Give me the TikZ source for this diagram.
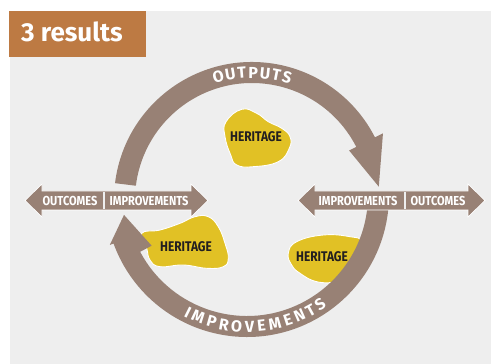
\documentclass[tikz,border=0pt]{standalone}
\usepackage{fontspec}
\setmainfont{Fira Sans}
\newfontfamily\condfont[FakeStretch=0.85]{Fira Sans}
\usetikzlibrary{calc}
\definecolor{panelgray}{HTML}{EEEEEE}
\definecolor{titleorange}{HTML}{BD7A43}
\definecolor{bandbrown}{HTML}{988175}
\definecolor{blobyellow}{HTML}{E1C125}
\definecolor{darktext}{HTML}{231F20}
\tikzset{
  blob/.style={fill=blobyellow, draw=white, line width=0.9pt},
  band/.style={fill=bandbrown},
  hbar/.style={fill=bandbrown, draw=white, line width=0.7pt},
  divider/.style={draw=panelgray, line width=2pt},
  barlabel/.style={inner sep=0pt, text=white, font=\condfont\fontsize{13}{13}\selectfont\bfseries},
  heritagelabel/.style={inner sep=0pt, text=darktext, font=\condfont\fontsize{14}{14}\selectfont\bfseries},
  arcletter/.style={inner sep=0pt, text=white, font=\fontsize{16}{16}\selectfont\bfseries}
}
\begin{document}
\begin{tikzpicture}[x=1pt,y=1pt]
\useasboundingbox (0,0) rectangle (491,364);
\fill[white] (0,0) rectangle (491,364);
\fill[panelgray] (10,0) rectangle (491,353);
% title
\fill[titleorange] (9,307) rectangle (146,353);
\node[anchor=base west, inner sep=0pt, text=white, font=\fontsize{26}{26}\selectfont\bfseries] (title) at (21,322) {3 results};

% blobs
\draw[blob] plot[smooth cycle, tension=0.75] coordinates {(226,242.3) (241.7,254.7) (256.7,250.7) (268.3,242.3) (281.7,235.7) (290,227.3) (289.3,215.7) (278.3,202.3) (253.3,197.3) (236.7,199) (230.7,209) (225,227.3)};
\draw[blob] plot[smooth cycle, tension=0.75] coordinates {(141.7,130.7) (160,134) (180,140.7) (195,147.3) (208.3,147.3) (218.3,137.3) (225,120.7) (228.3,105.7) (223.3,97.3) (206.7,95.7) (183.3,99) (160,97.3) (150,104) (146.7,115.7)};
\draw[blob] plot[smooth cycle, tension=0.75] coordinates {(288.3,110.7) (296.7,122.3) (323.3,129) (350,127.3) (361.7,122.3) (360,104) (351.7,89) (336.7,82.3) (316.7,82.3) (300,90.7) (291.7,99)};

\node[heritagelabel] (her1) at (256,227) {HERITAGE};
\node[heritagelabel] (her2) at (186,117) {HERITAGE};
\node[heritagelabel] (her3) at (322,107) {HERITAGE};

% ring
\coordinate (c) at (252,164);
\coordinate (cb) at (247,169);
\fill[band] ($(c)+(173:138)$) arc[start angle=173,end angle=27,radius=138]
  -- ($(c)+(27:147)$) -- ($(c)+(6:127.5)$) -- ($(c)+(27:109)$)
  -- ($(c)+(27:117)$) arc[start angle=27,end angle=173,radius=117] -- cycle;
\fill[band] ($(cb)+(-6:142)$) arc[start angle=-6,end angle=-160,radius=142]
  -- ($(cb)+(-160:146)$) -- ($(cb)+(-170.8:124.6)$) -- ($(cb)+(-152:108)$)
  -- ($(cb)+(-152:121)$) arc[start angle=-152,end angle=-6,radius=121] -- cycle;

% letters on the ring
\foreach \l/\a [count=\i] in {O/105.4,U/99.8,T/94.6,P/89.5,U/84.1,T/78.9,S/74.1}
  \node[arcletter, rotate=\a-90] (out\i) at ($(c)+(\a:127.5)$) {\l};
\foreach \l/\a [count=\i] in {I/-116.7,M/-111.7,P/-105.6,R/-100.1,O/-94.5,V/-88.9,E/-83.7,M/-77.8,E/-71.9,N/-66.5,T/-61.1,S/-56.2}
  \node[arcletter, rotate=\a+90] (imp\i) at ($(cb)+(\a:131.5)$) {\l};

% horizontal double arrows
\draw[hbar] (25,163.5) -- (42,180) -- (42,173) -- (191,173) -- (191,180) -- (208,163.5)
  -- (191,147) -- (191,154) -- (42,154) -- (42,147) -- cycle;
\draw[divider] (104,154.6) -- (104,172.4);
\draw[hbar] (298,163.5) -- (315,180) -- (315,173) -- (468,173) -- (468,180) -- (485,163.5)
  -- (468,147) -- (468,154) -- (315,154) -- (315,147) -- cycle;
\draw[divider] (405,154.6) -- (405,172.4);

\node[barlabel] (lout) at (70,163.5) {OUTCOMES};
\node[barlabel] (limp) at (149,163.5) {IMPROVEMENTS};
\node[barlabel] (rimp) at (358,163.5) {IMPROVEMENTS};
\node[barlabel] (rout) at (438,163.5) {OUTCOMES};
\end{tikzpicture}
\end{document}
